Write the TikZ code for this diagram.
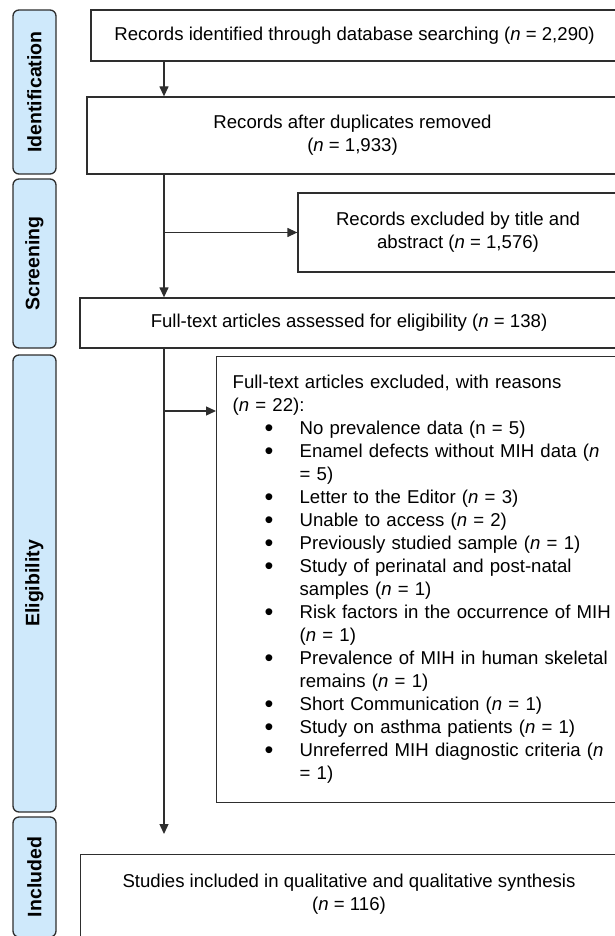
\documentclass[tikz,border=0pt]{standalone}
\usepackage{fontspec}
\setmainfont{Liberation Sans}
\usepackage{xcolor}
\usetikzlibrary{arrows.meta,calc}
\definecolor{phaseblue}{HTML}{CFE9FB}
\definecolor{linegray}{HTML}{2E2E2E}

\newcommand{\excitem}{\hspace*{32pt}\makebox[35pt][l]{\raisebox{-1.5pt}{\scalebox{1.35}{\textbullet}}}}
\newcommand{\exccont}{\hspace*{67pt}}

\begin{document}
\begin{tikzpicture}[x=1pt,y=-1pt,
    box/.style={draw=linegray,line width=1.3pt,rectangle,align=center,inner sep=0pt,font=\fontsize{18.6}{23}\selectfont},
    phase/.style={draw=linegray,line width=1.3pt,fill=phaseblue,rounded corners=6pt,rotate=90,minimum height=43pt,inner sep=0pt,font=\fontsize{19.5}{22}\selectfont\bfseries},
    arr/.style={draw=linegray,line width=1.3pt,-{Triangle[length=10pt,width=9pt]}}]
    \useasboundingbox (0,0) rectangle (615,936);
    \clip (0,0) rectangle (615,936);

    \node[phase,minimum width=164pt] (ident) at (34.5,92) {Identification};
    \node[phase,minimum width=169pt] (screen) at (34.5,263.5) {Screening};
    \node[phase,minimum width=457pt] (elig) at (34.5,583.5) {Eligibility};
    \node[phase,minimum width=120pt] (incd) at (34.5,877) {Included};

    \node[box,minimum width=527pt,minimum height=51pt] (rec) at (354.5,35.5) {Records identified through database searching (\textit{n} = 2,290)};
    \node[box,minimum width=531pt,minimum height=77pt] (dup) at (352.5,135.5) {Records after duplicates removed\\(\textit{n} = 1,933)};
    \node[box,minimum width=320pt,minimum height=79pt] (exttl) at (458,232.5) {Records excluded by title and\\abstract (\textit{n} = 1,576)};
    \node[box,minimum width=538pt,minimum height=50pt] (full) at (349,323) {Full-text articles assessed for eligibility (\textit{n} = 138)};
    \node[box,minimum height=446pt,text width=400pt,align=left,inner xsep=16pt,anchor=north west] (exfull) at (216,356) {Full-text articles excluded, with reasons\\
        (\textit{n} = 22):\\
        \excitem No prevalence data (n = 5)\\
        \excitem Enamel defects without MIH data (\textit{n}\\
        \exccont = 5)\\
        \excitem Letter to the Editor (\textit{n} = 3)\\
        \excitem Unable to access (\textit{n} = 2)\\
        \excitem Previously studied sample (\textit{n} = 1)\\
        \excitem Study of perinatal and post-natal\\
        \exccont samples (\textit{n} = 1)\\
        \excitem Risk factors in the occurrence of MIH\\
        \exccont (\textit{n} = 1)\\
        \excitem Prevalence of MIH in human skeletal\\
        \exccont remains (\textit{n} = 1)\\
        \excitem Short Communication (\textit{n} = 1)\\
        \excitem Study on asthma patients (\textit{n} = 1)\\
        \excitem Unreferred MIH diagnostic criteria (\textit{n}\\
        \exccont = 1)};
    \node[box,minimum width=538pt,minimum height=91pt,anchor=north west] (incl) at (80,854) {};
    \node[font=\fontsize{18.6}{23}\selectfont,align=center] (incltxt) at (349,894) {Studies included in qualitative and qualitative synthesis\\(\textit{n} = 116)};

    \coordinate (spine) at (164,0);
    \coordinate (stop) at (164,834);
    \coordinate (exin) at ([yshift=-55pt]exfull.north west);
    \draw[arr] (spine |- rec.south) -- (spine |- dup.north);
    \draw[arr] (spine |- dup.south) -- (spine |- full.north);
    \draw[arr] (spine |- exttl.west) -- (exttl.west);
    \draw[arr] (spine |- full.south) -- (stop);
    \draw[arr] (spine |- exin) -- (exin);
\end{tikzpicture}
\end{document}
